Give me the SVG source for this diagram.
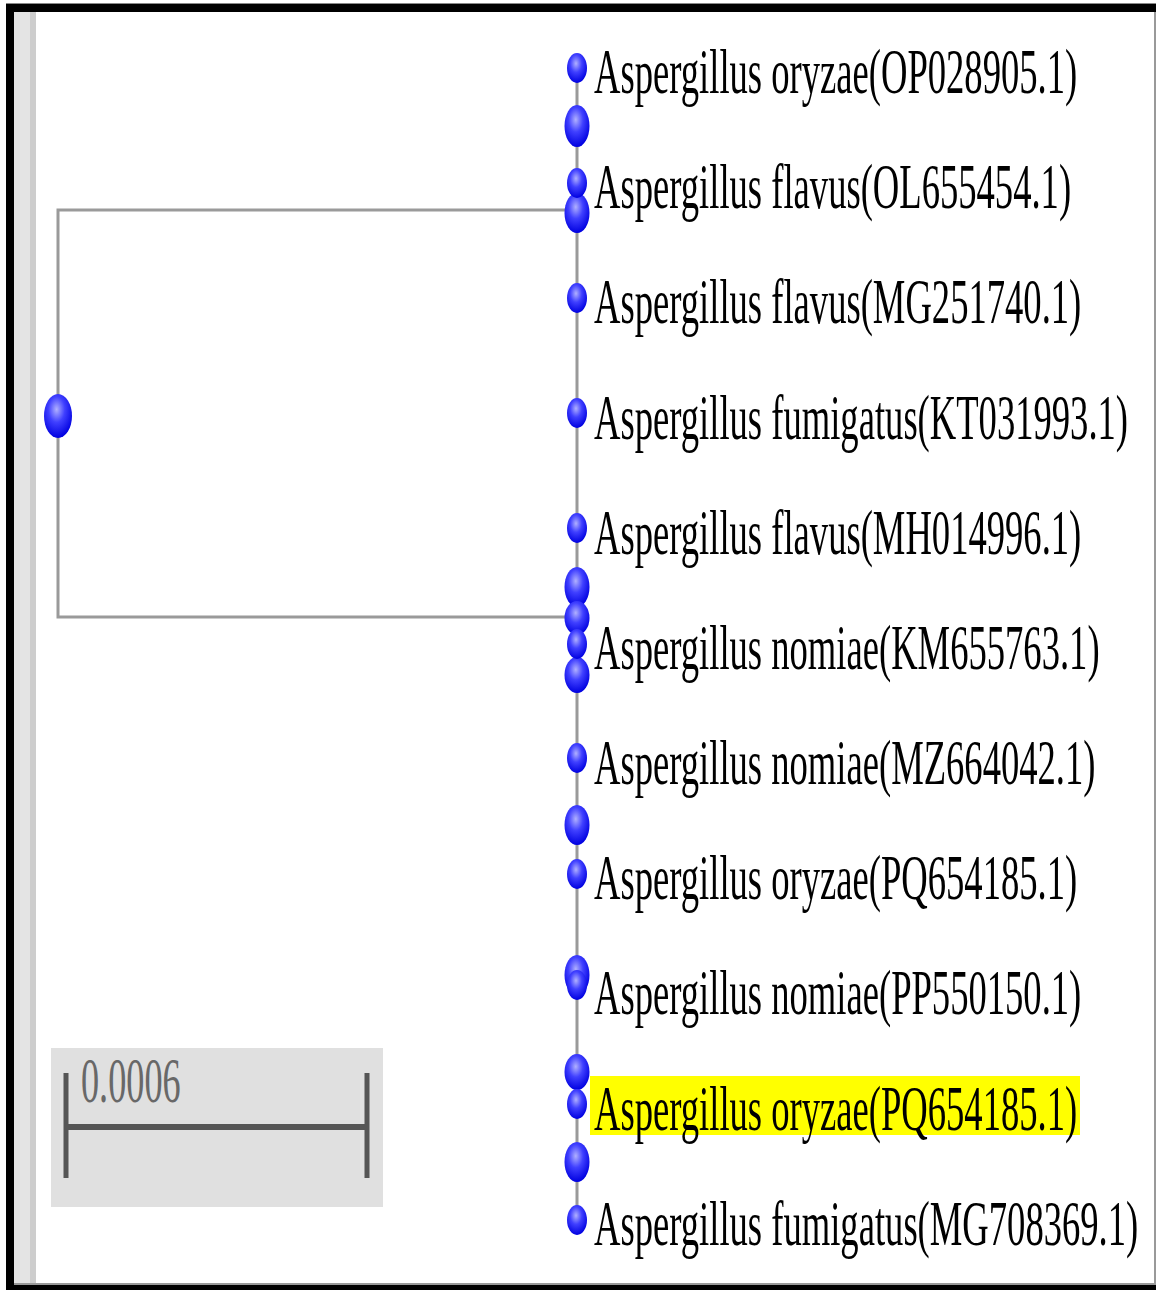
<svg xmlns="http://www.w3.org/2000/svg" width="1156" height="1290" viewBox="0 0 1156 1290">
<style>
.edge{stroke:#9a9a9a;stroke-width:3;fill:none}
.lbl{font-family:"Liberation Serif","Times New Roman",serif;font-size:63px;fill:#000}
.sc{font-family:"Liberation Serif","Times New Roman",serif;font-size:63px;fill:#686868}
.bar{stroke:#555;fill:none}
</style>
<defs>
<radialGradient id="ball" cx="0.45" cy="0.35" r="0.65">
<stop offset="0" stop-color="#b0b0ff"/>
<stop offset="0.45" stop-color="#4040ff"/>
<stop offset="1" stop-color="#0000e0"/>
</radialGradient>
</defs>
<rect x="0" y="0" width="1156" height="1290" fill="#fff"/>
<g id="frame">
<rect x="6" y="3" width="1150" height="1" fill="#888"/>
<rect x="6" y="4" width="1150" height="8" fill="#000"/>
<rect x="6" y="4" width="8" height="1286" fill="#000"/>
<rect x="14" y="12" width="16" height="1272" fill="#e4e4e4"/>
<rect x="30" y="12" width="6" height="1272" fill="#cdcdcd"/>
<rect x="1154" y="12" width="2" height="1272" fill="#999"/>
<rect x="14" y="1283" width="1142" height="2" fill="#999"/>
<rect x="6" y="1285" width="1150" height="5" fill="#000"/>
</g>
<g id="connectors">
<path class="edge" d="M58,416 V210 H577"/>
<path class="edge" d="M58,416 V617 H577"/>
<line class="edge" x1="577" y1="68" x2="577" y2="1220"/>
</g>
<g id="scale">
<rect x="51" y="1048" width="332" height="159" fill="#e0e0e0"/>
<line class="bar" x1="66" y1="1073" x2="66" y2="1178" stroke-width="5"/>
<line class="bar" x1="367" y1="1073" x2="367" y2="1178" stroke-width="5"/>
<line class="bar" x1="66" y1="1127" x2="367" y2="1127" stroke-width="6"/>
<text class="sc" transform="translate(81,1102) scale(0.575,1)">0.0006</text>
</g>
<g id="root"><ellipse cx="58" cy="416" rx="14" ry="22" fill="url(#ball)"/></g>
<g id="internal-nodes">
<ellipse id="n1" cx="577" cy="126" rx="12.5" ry="21" fill="url(#ball)"/>
<ellipse id="n2" cx="577" cy="213" rx="12.5" ry="20" fill="url(#ball)"/>
<ellipse id="n3" cx="577" cy="587" rx="12.5" ry="20" fill="url(#ball)"/>
<ellipse id="n4" cx="577" cy="618" rx="12.5" ry="17" fill="url(#ball)"/>
<ellipse id="n5" cx="577" cy="675" rx="12.5" ry="18" fill="url(#ball)"/>
<ellipse id="n6" cx="577" cy="825" rx="12.5" ry="20" fill="url(#ball)"/>
<ellipse id="n7" cx="577" cy="975" rx="12.5" ry="20" fill="url(#ball)"/>
<ellipse id="n8" cx="577" cy="1072" rx="12.5" ry="18" fill="url(#ball)"/>
<ellipse id="n9" cx="577" cy="1162" rx="12.5" ry="20" fill="url(#ball)"/>
</g>
<rect x="590" y="1076" width="490" height="59" fill="#ffff00"/>
<g id="leaf1"><ellipse cx="577" cy="68" rx="10" ry="15" fill="url(#ball)"/><text class="lbl" transform="translate(594,93) scale(0.581,1)">Aspergillus oryzae(OP028905.1)</text></g>
<g id="leaf2"><ellipse cx="577" cy="183" rx="10" ry="15" fill="url(#ball)"/><text class="lbl" transform="translate(594,208) scale(0.581,1)">Aspergillus flavus(OL655454.1)</text></g>
<g id="leaf3"><ellipse cx="577" cy="298" rx="10" ry="15" fill="url(#ball)"/><text class="lbl" transform="translate(594,323) scale(0.581,1)">Aspergillus flavus(MG251740.1)</text></g>
<g id="leaf4"><ellipse cx="577" cy="413" rx="10" ry="15" fill="url(#ball)"/><text class="lbl" transform="translate(594,439) scale(0.581,1)">Aspergillus fumigatus(KT031993.1)</text></g>
<g id="leaf5"><ellipse cx="577" cy="528" rx="10" ry="15" fill="url(#ball)"/><text class="lbl" transform="translate(594,554) scale(0.581,1)">Aspergillus flavus(MH014996.1)</text></g>
<g id="leaf6"><ellipse cx="577" cy="644" rx="10" ry="15" fill="url(#ball)"/><text class="lbl" transform="translate(594,669) scale(0.581,1)">Aspergillus nomiae(KM655763.1)</text></g>
<g id="leaf7"><ellipse cx="577" cy="758" rx="10" ry="15" fill="url(#ball)"/><text class="lbl" transform="translate(594,784) scale(0.581,1)">Aspergillus nomiae(MZ664042.1)</text></g>
<g id="leaf8"><ellipse cx="577" cy="874" rx="10" ry="15" fill="url(#ball)"/><text class="lbl" transform="translate(594,899) scale(0.581,1)">Aspergillus oryzae(PQ654185.1)</text></g>
<g id="leaf9"><ellipse cx="577" cy="985" rx="10" ry="15" fill="url(#ball)"/><text class="lbl" transform="translate(594,1014) scale(0.581,1)">Aspergillus nomiae(PP550150.1)</text></g>
<g id="leaf10"><ellipse cx="577" cy="1104" rx="10" ry="15" fill="url(#ball)"/><text class="lbl" transform="translate(594,1130) scale(0.581,1)">Aspergillus oryzae(PQ654185.1)</text></g>
<g id="leaf11"><ellipse cx="577" cy="1220" rx="10" ry="15" fill="url(#ball)"/><text class="lbl" transform="translate(594,1245) scale(0.581,1)">Aspergillus fumigatus(MG708369.1)</text></g>
</svg>
